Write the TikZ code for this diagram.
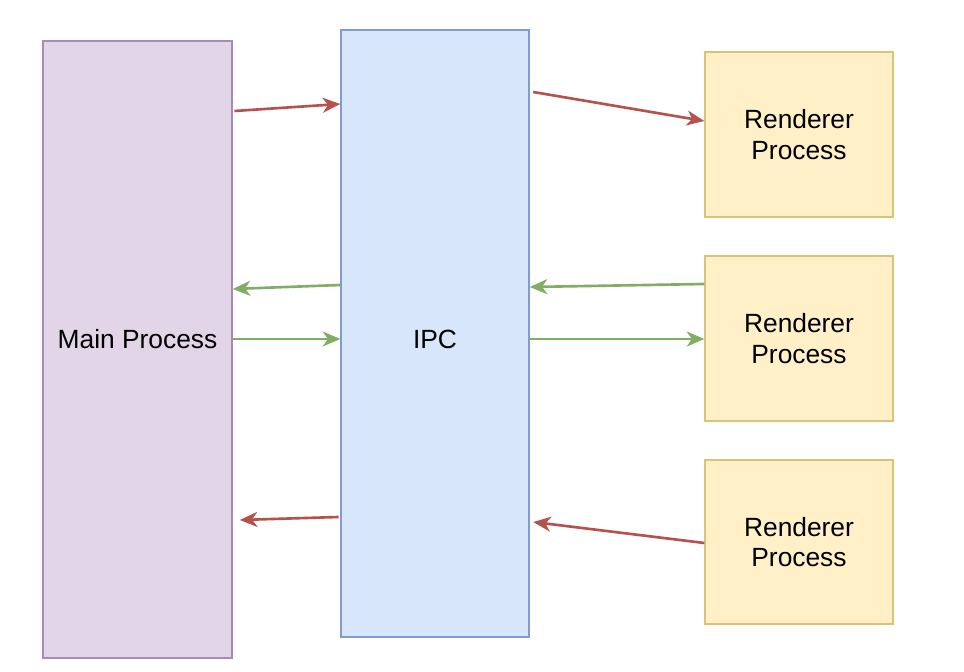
\documentclass[tikz,border=0pt]{standalone}
\usepackage{xcolor}
\usepackage{fontspec}
\setmainfont{Liberation Sans}
\usetikzlibrary{arrows.meta}

\definecolor{mainfill}{HTML}{E1D5E7}
\definecolor{maindraw}{HTML}{A68BB5}
\definecolor{ipcfill}{HTML}{D8E6FB}
\definecolor{ipcdraw}{HTML}{7F9CCB}
\definecolor{rendfill}{HTML}{FFF0C8}
\definecolor{renddraw}{HTML}{DCC278}
\definecolor{redline}{HTML}{B5524D}
\definecolor{greenline}{HTML}{80AE66}

\begin{document}
\begin{tikzpicture}[x=0.02cm, y=-0.02cm,
    box/.style={draw, line width=0.8pt, inner sep=0pt, align=center,
        font=\fontsize{15}{17.5}\selectfont},
    mainbox/.style={box, fill=mainfill, draw=maindraw, minimum width=189*0.02cm, minimum height=617*0.02cm},
    ipcbox/.style={box, fill=ipcfill, draw=ipcdraw, minimum width=188*0.02cm, minimum height=607*0.02cm},
    rendbox/.style={box, fill=rendfill, draw=renddraw, minimum width=188*0.02cm, minimum height=165*0.02cm},
    msg/.style={line width=1.5pt, -{Stealth[length=10pt, width=8.5pt, inset=3pt]}},
    redmsg/.style={msg, draw=redline, fill=redline},
    greenmsg/.style={msg, draw=greenline, fill=greenline}]

    \useasboundingbox[fill=white] (0,0) rectangle (964,672);

    \node[mainbox, text depth=12pt] (main) at (137.5, 349.5) {Main Process};
    \node[ipcbox, text height=17pt, text depth=0pt] (ipc) at (435, 333.5) {IPC};

    \node[rendbox] (rend1) at (799, 134.5) {Renderer\\Process};
    \node[rendbox] (rend2) at (799, 338.5) {Renderer\\Process};
    \node[rendbox, minimum height=164*0.02cm] (rend3) at (799, 542) {Renderer\\Process};

    % main -> ipc -> renderer
    \draw[redmsg] ([xshift=1pt]main.east |- 0,111) -- (ipc.west |- 0,104);
    \draw[redmsg] ([xshift=2pt]ipc.east |- 0,92) -- (rend1.west |- 0,121);

    % two way messages
    \draw[greenmsg] (ipc.west |- 0,285) -- (main.east |- 0,289);
    \draw[greenmsg] (main.east |- 0,339) -- (ipc.west |- 0,339);
    \draw[greenmsg] (rend2.west |- 0,284) -- (ipc.east |- 0,287);
    \draw[greenmsg] (ipc.east |- 0,339) -- (rend2.west |- 0,339);

    % renderer -> ipc -> main
    \draw[redmsg] ([xshift=-1pt]ipc.west |- 0,517) -- ([xshift=4pt]main.east |- 0,520);
    \draw[redmsg] (rend3.west |- 0,543) -- ([xshift=2pt]ipc.east |- 0,522);

\end{tikzpicture}
\end{document}
